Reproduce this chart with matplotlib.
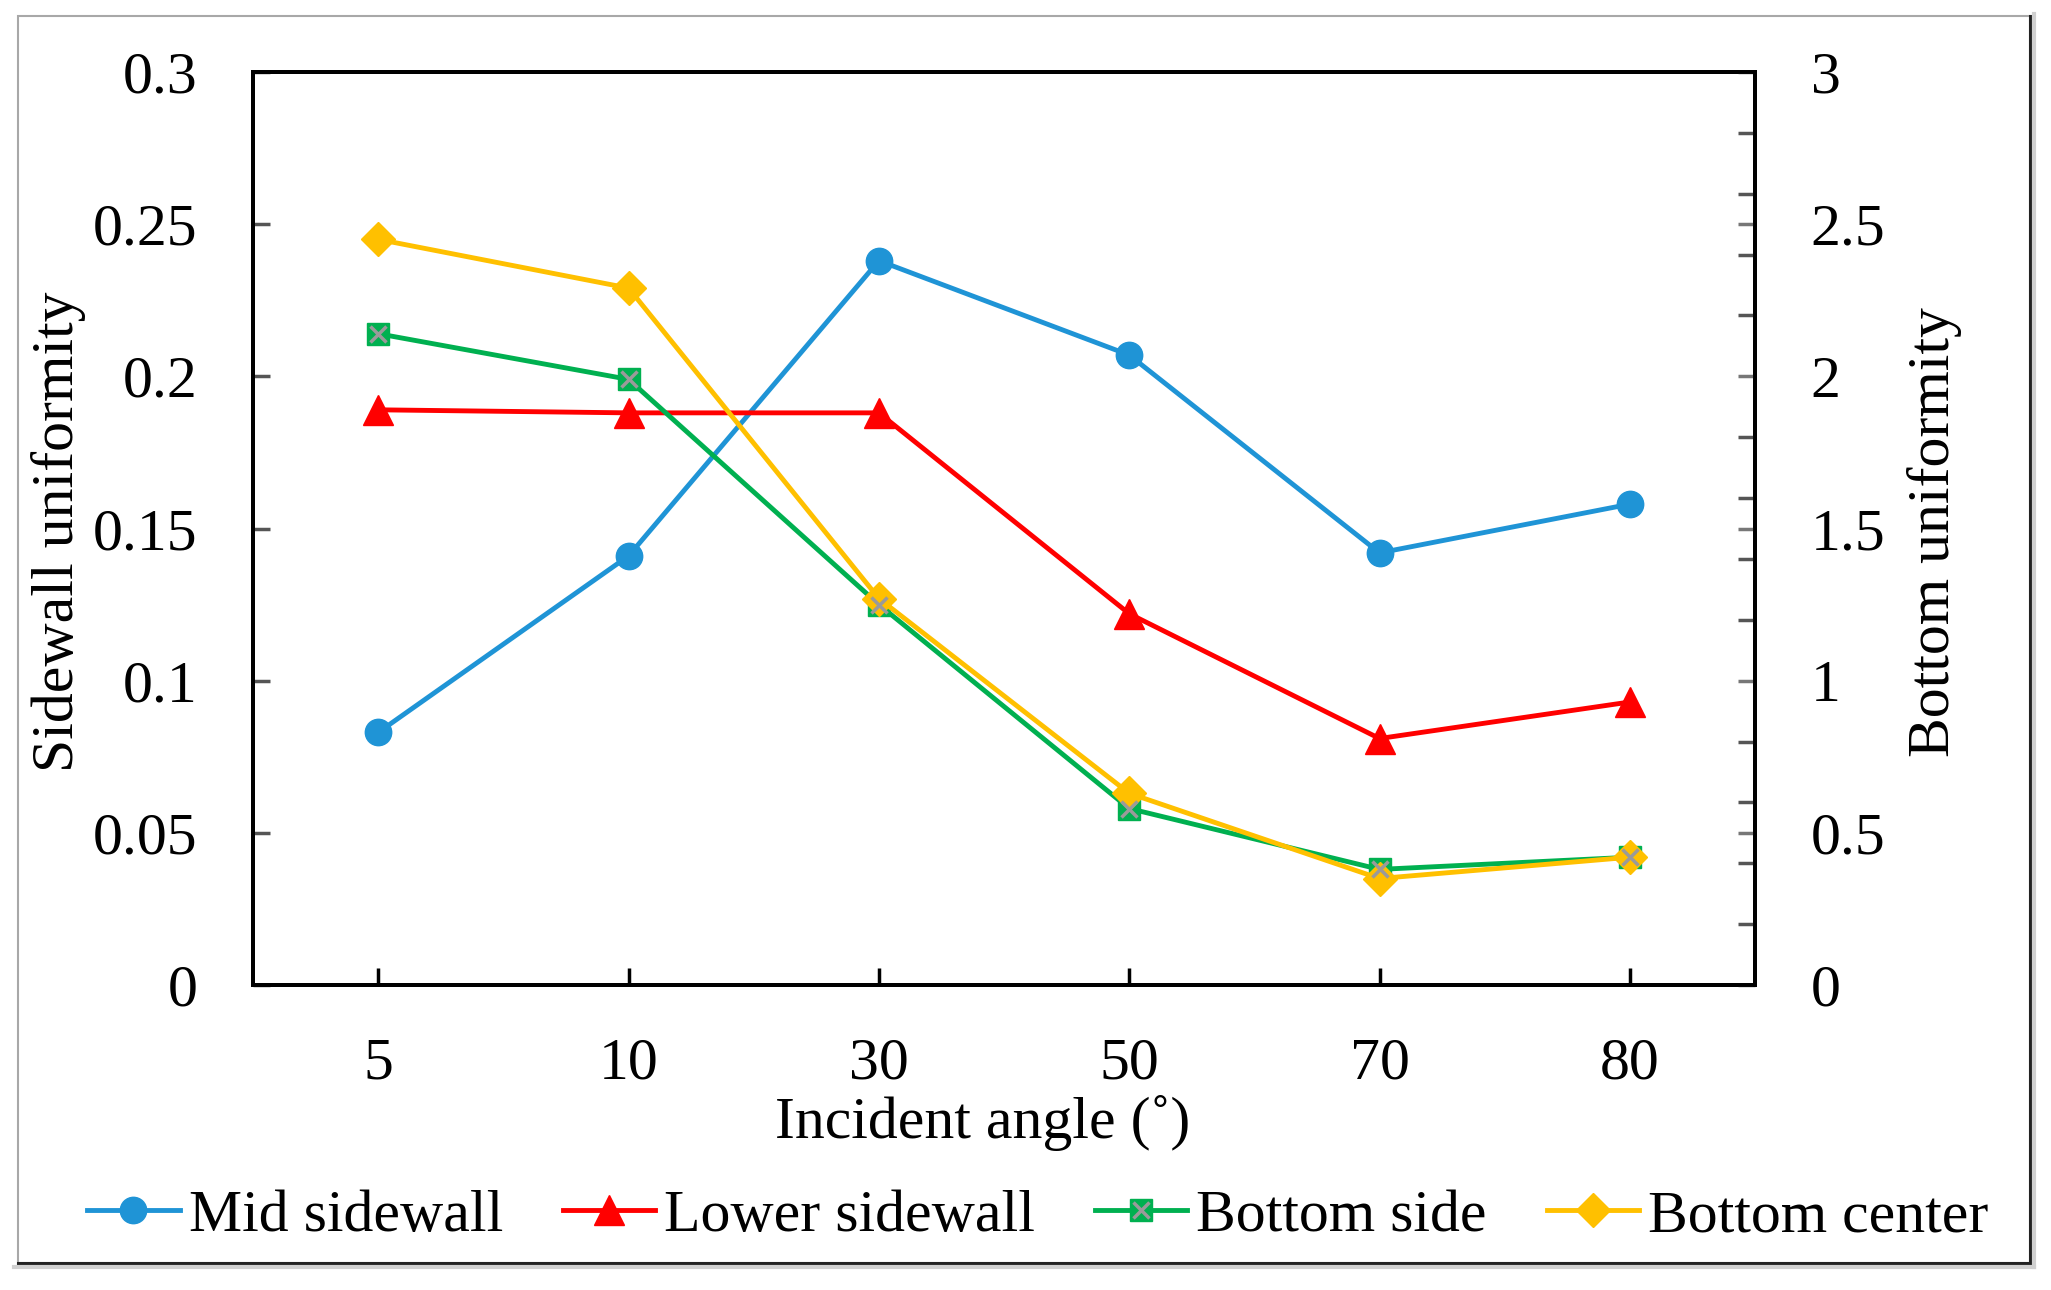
import matplotlib
matplotlib.use("Agg")
import matplotlib.pyplot as plt
from matplotlib.ticker import MultipleLocator, FixedLocator
from matplotlib.lines import Line2D
from matplotlib.patches import Rectangle

# ---- data ----
angles = ["5", "10", "30", "50", "70", "80"]
mid_sidewall = [0.083, 0.141, 0.238, 0.207, 0.142, 0.158]
lower_sidewall = [0.189, 0.188, 0.188, 0.122, 0.081, 0.093]
bottom_side = [2.14, 1.99, 1.25, 0.58, 0.38, 0.42]
bottom_center = [2.45, 2.29, 1.27, 0.63, 0.35, 0.42]

left_ticks = [0, 0.05, 0.1, 0.15, 0.2, 0.25, 0.3]
left_labels = ["0", "0.05", "0.1", "0.15", "0.2", "0.25", "0.3"]
right_ticks = [0, 0.5, 1, 1.5, 2, 2.5, 3]
right_labels = ["0", "0.5", "1", "1.5", "2", "2.5", "3"]

plt.rcParams['font.family'] = ['Liberation Serif', 'DejaVu Serif']

FS = 43
c_blue = "#1F94D6"
c_red = "#FF0000"
c_green = "#00B050"
c_yellow = "#FFC000"

fig = plt.figure(figsize=(20.51, 12.90), dpi=100)
ax = fig.add_axes([0.1234, 0.2364, 0.8557 - 0.1234, 0.9442 - 0.2364])
ax2 = ax.twinx()

x = list(range(len(angles)))
lw = 3.5
l1, = ax.plot(x, mid_sidewall, color=c_blue, lw=lw, marker='o', ms=19,
              label="Mid sidewall", zorder=3)
l2, = ax.plot(x, lower_sidewall, color=c_red, lw=lw, marker='^', ms=21,
              label="Lower sidewall", zorder=3)
l3, = ax2.plot(x, bottom_side, color=c_green, lw=lw, marker='s', ms=16,
               label="Bottom side", zorder=3)
l3x, = ax2.plot(x, bottom_side, ls='none', marker='x', ms=12, mew=2.5,
                color='#9a9a9a', zorder=4)
l4, = ax2.plot(x, bottom_center, color=c_yellow, lw=lw, marker='D', ms=17,
               label="Bottom center", zorder=3)

ax.set_xlim(-0.5, len(angles) - 0.5)
ax.set_ylim(0, 0.3)
ax2.set_ylim(0, 3)

ax.set_xticks(x)
ax.set_xticklabels(angles)
ax.yaxis.set_major_locator(FixedLocator(left_ticks))
ax.set_yticklabels(left_labels)
ax2.yaxis.set_major_locator(FixedLocator(right_ticks))
ax2.set_yticklabels(right_labels)
ax2.yaxis.set_minor_locator(MultipleLocator(0.2))

ax.tick_params(axis='x', direction='in', length=12, width=2.5, color='black',
               labelsize=FS, pad=38)
ax.tick_params(axis='y', direction='in', length=12, width=2.5, color='#555555',
               labelsize=FS, pad=40)
ax2.tick_params(axis='y', which='major', direction='in', length=12, width=2.5,
                color='#777777', labelsize=FS, pad=40)
ax2.tick_params(axis='y', which='minor', direction='in', length=12, width=2.5,
                color='#555555')

for a in (ax, ax2):
    for s in a.spines.values():
        s.set_linewidth(2.8)
        s.set_color('black')

fig.text(59 / 2051, 1 - 532 / 1290, "Sidewall uniformity", rotation=90,
         ha='center', va='center', fontsize=FS)
fig.text(1934 / 2051, 1 - 532 / 1290, "Bottom uniformity", rotation=90,
         ha='center', va='center', fontsize=FS)
fig.text(983 / 2051, 1 - 1123 / 1290, "Incident angle (˚)",
         ha='center', va='center', fontsize=FS)

leg = fig.legend([l1, l2, (l3, l3x), l4],
                 ["Mid sidewall", "Lower sidewall", "Bottom side", "Bottom center"],
                 loc='center', bbox_to_anchor=(0.506, 0.0566), ncol=4,
                 frameon=False, fontsize=FS, handlelength=1.55,
                 handletextpad=0.15, columnspacing=1.0, borderaxespad=0)

# outer frame
fig.patches.append(Rectangle((18 / 2051, 1 - 1263 / 1290),
                             (2030 - 18) / 2051, (1263 - 16) / 1290,
                             transform=fig.transFigure, fill=False,
                             edgecolor='#a8a8a8', lw=1.5))
fig.lines.append(Line2D([2030 / 2051, 2030 / 2051],
                        [1 - 1263 / 1290, 1 - 16 / 1290],
                        transform=fig.transFigure, color='#222222', lw=2.2))
fig.lines.append(Line2D([18 / 2051, 2030 / 2051],
                        [1 - 1263 / 1290, 1 - 1263 / 1290],
                        transform=fig.transFigure, color='#222222', lw=2.2))
fig.lines.append(Line2D([2034 / 2051, 2034 / 2051],
                        [1 - 1267 / 1290, 1 - 14 / 1290],
                        transform=fig.transFigure, color='#d0d0d0', lw=3))
fig.lines.append(Line2D([14 / 2051, 2034 / 2051],
                        [1 - 1267 / 1290, 1 - 1267 / 1290],
                        transform=fig.transFigure, color='#d0d0d0', lw=3))

fig.savefig("out.png", dpi=100)
